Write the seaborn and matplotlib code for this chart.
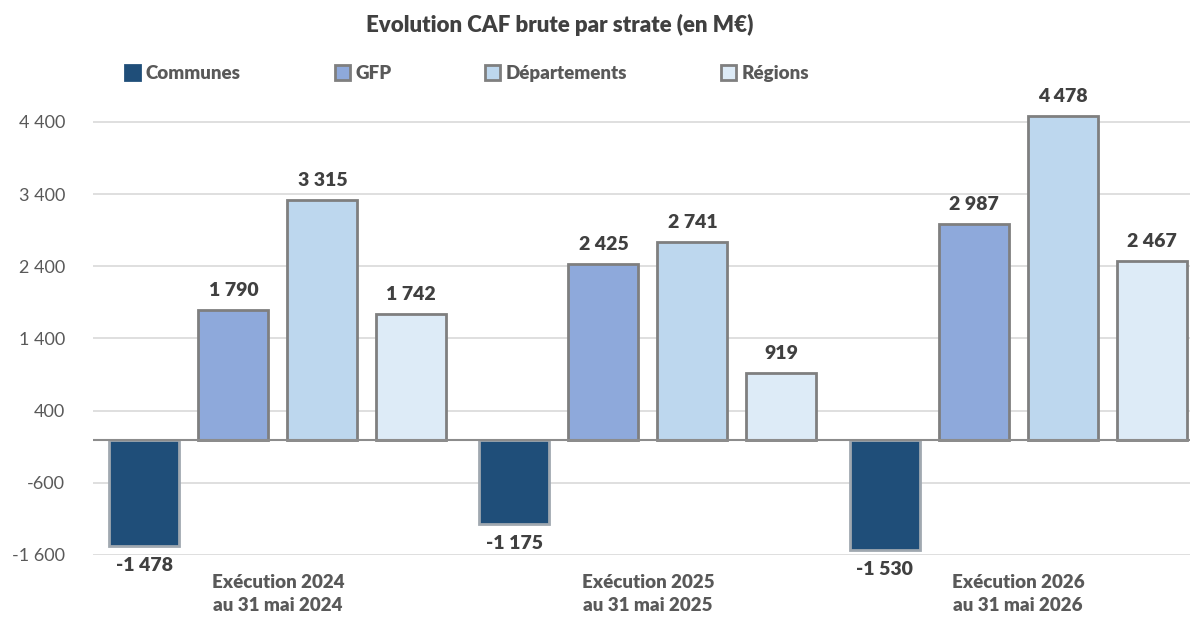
import matplotlib
matplotlib.use("Agg")
import matplotlib.pyplot as plt
from matplotlib.patches import Patch
import pandas as pd
import seaborn as sns

# data
periods = ["Exécution 2024\nau 31 mai 2024",
           "Exécution 2025\nau 31 mai 2025",
           "Exécution 2026\nau 31 mai 2026"]
strates = ["Communes", "GFP", "Départements", "Régions"]
communes = [-1478, -1175, -1530]
gfp = [1790, 2425, 2987]
departements = [3315, 2741, 4478]
regions = [1742, 919, 2467]
yticks = [-1600, -600, 400, 1400, 2400, 3400, 4400]

colors = ["#1F4E79", "#8EA9DB", "#BDD7EE", "#DDEBF7"]
edges = ["#A0A8B0", "#7F7F7F", "#7F7F7F", "#7F7F7F"]

rows = []
for s, vals in zip(strates, [communes, gfp, departements, regions]):
    for p, v in zip(periods, vals):
        rows.append({"periode": p, "strate": s, "valeur": v})
df = pd.DataFrame(rows)

sns.set_style("white")
plt.rcParams["font.family"] = ["Lato", "DejaVu Sans"]

fig = plt.figure(figsize=(11.9, 6.24), dpi=100)
ax = fig.add_axes([0.078, 0.1106, 0.933, 0.7287])

sns.barplot(data=df, x="periode", y="valeur", hue="strate", order=periods,
            hue_order=strates, palette=colors, saturation=1, width=0.962,
            gap=0.213, linewidth=2, legend=False, ax=ax)

for cont, ec in zip(ax.containers, edges):
    for bar in cont:
        bar.set_edgecolor(ec)
    labs = [f"{b.get_height():,.0f}".replace(",", " ") for b in cont]
    ax.bar_label(cont, labels=labs, padding=8, fontsize=14, fontweight="heavy",
                 color="#404040")

ax.set_ylim(-1600, 4700)
ax.set_xlim(-0.5, 2.5)
ax.set_yticks(yticks)
ax.set_yticklabels([f"{t:,}".replace(",", " ") for t in yticks],
                   fontsize=13, color="#595959")
ax.yaxis.grid(True, color="#D9D9D9", linewidth=1.2)
ax.set_axisbelow(True)
ax.axhline(0, color="#8C8C8C", linewidth=1.5, zorder=1)
for sp in ax.spines.values():
    sp.set_visible(False)
ax.tick_params(axis="y", length=0, pad=20)
ax.tick_params(axis="x", length=0, pad=14)
for t in ax.get_xticklabels():
    t.set_fontsize(13.5)
    t.set_fontweight("heavy")
    t.set_color("#595959")
    t.set_linespacing(1.4)
ax.set_xlabel("")
ax.set_ylabel("")

fig.text(0.47, 0.96, "Evolution CAF brute par strate (en M€)", ha="center",
         va="center", fontsize=16, fontweight="heavy", color="#404040")

handles = [Patch(facecolor=c, edgecolor=(c if i == 0 else "#7F7F7F"), linewidth=2)
           for i, c in enumerate(colors)]
fig.legend(handles, strates, loc="center left", bbox_to_anchor=(0.091, 0.882),
           ncol=4, frameon=False, columnspacing=5.0,
           handlelength=0.8, handleheight=0.8, handletextpad=0.3,
           prop={"weight": "heavy", "size": 13.5})
for t in fig.legends[0].get_texts():
    t.set_color("#595959")

fig.savefig("out.png", dpi=100)
